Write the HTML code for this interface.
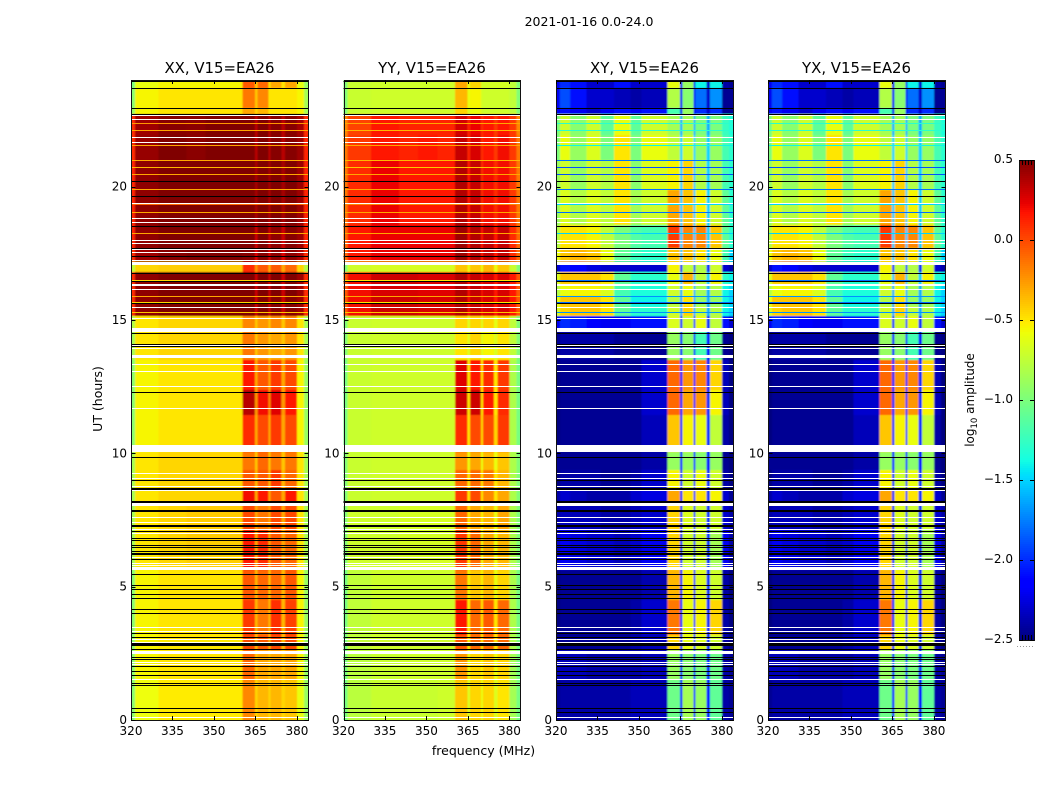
<!DOCTYPE html>
<html lang="en">
<head>
<meta charset="utf-8">
<title>2021-01-16 0.0-24.0</title>
<style>
html,body{margin:0;padding:0;background:#fff;}
#figure{display:block;width:1050px;height:800px;font-family:"DejaVu Sans","Liberation Sans",sans-serif;}
text{fill:#000;}
</style>
</head>
<body>
<svg id="figure" xmlns="http://www.w3.org/2000/svg" width="1050" height="800" viewBox="0 0 1050 800">
  <defs>
    <filter id="soft" x="-2%" y="0%" width="104%" height="100%"><feGaussianBlur stdDeviation="0.8 0.5"/></filter>
  </defs>
  <text x="589" y="26" font-size="12.5" text-anchor="middle">2021-01-16 0.0-24.0</text>
  <text x="483.5" y="755" font-size="12.5" text-anchor="middle">frequency (MHz)</text>
  <text transform="translate(102 399) rotate(-90)" font-size="12.5" text-anchor="middle">UT (hours)</text>
  <text transform="translate(974 400) rotate(-90)" font-size="12" text-anchor="middle">log<tspan font-size="8.5" dy="3">10</tspan><tspan dy="-3"> amplitude</tspan></text>
  <g id="panels"></g>
  <g id="colorbar"></g>
</svg>
<script>
// ---- chart data (log10 amplitude) ----
const copolarFreqEdges = [320,321.5,330,340,347,354,360.4,364.8,365.8,369.8,370.5,374.5,375.6,380,382.5,384];
const crossFreqEdges = [320,321.5,325,331,336,341,347,351,360.4,364.8,365.8,369.8,370.5,374.5,375.6,380,382.5,384];
const timeEdges = [24,23.7,22.95,22.73,21.94,21,19.88,18.56,17.7,17.18,16.8,16.35,15.9,15.53,15.15,14.63,13.5,12.38,11.44,10.05,9.38,8.63,8.06,7.13,5.63,4.5,3.19,2.63,1.5,0];

const xxLevels = [
[-1,-.6,-.55,-.55,-.55,-.55,-.05,-.4,-.1,-.5,-.3,-.5,-.3,-.6,-.9],
[-.95,-.55,-.5,-.5,-.5,-.5,-.15,-.4,-.2,-.5,-.5,-.5,-.5,-.55,-.85],
[-.9,-.55,-.5,-.5,-.5,-.5,-.3,-.45,-.35,-.5,-.5,-.5,-.5,-.55,-.85],
[.1,.42,.48,.47,.5,.5,.5,.35,.5,.35,.48,.35,.48,.4,.1],
[.1,.44,.5,.47,.5,.5,.5,.35,.5,.35,.48,.35,.48,.42,.12],
[.12,.46,.5,.5,.5,.5,.5,.4,.5,.4,.5,.4,.5,.42,.12],
[.12,.46,.5,.5,.5,.5,.5,.4,.5,.38,.5,.4,.5,.42,.12],
[.12,.46,.5,.5,.5,.5,.5,.3,.5,.3,.46,.3,.48,.42,.12],
[.1,.42,.48,.5,.5,.5,.48,.25,.48,.25,.46,.25,.46,.38,.1],
[-.75,-.45,-.42,-.42,-.42,-.42,.1,-.25,-.05,-.35,-.05,-.3,-.1,-.45,-.8],
[.1,.46,.5,.5,.5,.5,.5,.3,.5,.3,.5,.3,.5,.42,.1],
[.1,.46,.5,.5,.5,.5,.5,.3,.5,.3,.5,.3,.5,.42,.1],
[.1,.46,.5,.5,.5,.5,.5,.3,.5,.3,.48,.3,.48,.42,.1],
[.1,.46,.5,.5,.5,.5,.5,.3,.5,.3,.48,.3,.48,.42,.1],
[-.8,-.5,-.45,-.45,-.45,-.45,-.2,-.4,-.25,-.4,-.2,-.4,-.2,-.5,-.85],
[-.85,-.5,-.45,-.45,-.45,-.45,-.15,-.4,-.25,-.4,-.3,-.4,-.25,-.5,-.85],
[-.95,-.55,-.5,-.5,-.5,-.5,.15,-.3,-.05,-.3,.05,-.3,0,-.55,-.9],
[-.95,-.55,-.5,-.5,-.5,-.5,.35,-.25,.2,-.2,.25,-.25,.15,-.55,-.9],
[-.95,-.55,-.5,-.5,-.5,-.5,.1,-.3,0,-.3,.05,-.3,0,-.55,-.9],
[-.85,-.5,-.45,-.45,-.45,-.45,-.15,-.4,-.1,-.4,-.15,-.4,-.15,-.5,-.85],
[-.85,-.5,-.45,-.45,-.45,-.45,-.05,-.35,-.05,-.35,.05,-.35,-.1,-.5,-.85],
[-.85,-.5,-.45,-.45,-.45,-.45,.2,-.3,.15,-.3,-.05,-.3,.15,-.5,-.85],
[-.85,-.5,-.45,-.42,-.42,-.42,0,-.3,-.15,-.3,0,-.3,0,-.5,-.85],
[-.85,-.5,-.45,-.42,-.42,-.42,.15,-.3,.1,-.3,-.05,-.3,-.1,-.5,-.85],
[-.95,-.55,-.5,-.5,-.5,-.5,-.05,-.35,-.1,-.4,-.1,-.35,-.05,-.55,-.9],
[-.95,-.55,-.5,-.5,-.5,-.5,.05,-.35,-.15,-.35,.08,-.35,.03,-.55,-.9],
[-.95,-.55,-.5,-.5,-.5,-.5,0,-.35,-.05,-.35,0,-.35,0,-.55,-.9],
[-.95,-.55,-.5,-.5,-.5,-.5,-.1,-.4,-.3,-.4,-.3,-.4,-.3,-.55,-.9],
[-.95,-.58,-.52,-.52,-.52,-.52,-.2,-.45,-.35,-.45,-.35,-.45,-.4,-.6,-.9]
];

const yyLevels = [
[-.98,-.72,-.7,-.7,-.7,-.7,-.3,-.6,-.45,-.68,-.68,-.68,-.68,-.75,-.98],
[-.98,-.72,-.7,-.7,-.7,-.7,-.35,-.6,-.55,-.68,-.7,-.7,-.7,-.75,-.98],
[-.98,-.72,-.7,-.7,-.7,-.7,-.45,-.65,-.6,-.68,-.7,-.7,-.7,-.75,-.98],
[-.2,.02,.17,.12,.12,.12,.28,.12,.22,.08,.15,.05,.15,.05,-.2],
[-.15,.05,.17,.12,.17,.12,.32,.12,.27,.08,.15,.05,.2,.05,-.15],
[-.15,.1,.22,.17,.17,.17,.37,.15,.32,.1,.2,.1,.2,.05,-.15],
[-.15,.1,.22,.17,.17,.17,.37,.15,.32,.1,.2,.1,.2,.05,-.15],
[-.1,.15,.22,.22,.22,.22,.42,.2,.37,.15,.32,.15,.32,.1,-.1],
[-.1,.15,.22,.22,.22,.22,.42,.2,.37,.15,.32,.15,.32,.1,-.1],
[-.98,-.7,-.67,-.67,-.67,-.67,-.4,-.6,-.4,-.6,-.35,-.6,-.4,-.72,-.98],
[-.05,.2,.3,.3,.27,.27,.37,.2,.32,.2,.27,.15,.27,.15,-.05],
[-.05,.2,.27,.27,.25,.25,.37,.2,.32,.2,.27,.15,.27,.15,-.05],
[-.05,.2,.3,.3,.27,.27,.37,.2,.32,.2,.27,.15,.27,.15,-.05],
[-.05,.2,.3,.3,.27,.27,.37,.2,.32,.2,.27,.15,.27,.15,-.05],
[-.98,-.72,-.7,-.7,-.7,-.7,-.45,-.65,-.45,-.65,-.45,-.62,-.45,-.75,-.98],
[-.98,-.72,-.7,-.7,-.7,-.7,-.5,-.65,-.45,-.65,-.55,-.65,-.5,-.75,-.98],
[-1.02,-.72,-.7,-.7,-.7,-.7,.25,-.5,.15,-.5,.1,-.5,.05,-.82,-1.02],
[-1.02,-.72,-.7,-.7,-.7,-.7,.3,-.5,.3,-.5,.15,-.5,.1,-.82,-1.02],
[-1.02,-.72,-.7,-.7,-.7,-.7,.1,-.5,0,-.45,0,-.45,.05,-.82,-1.02],
[-.98,-.72,-.7,-.7,-.7,-.7,-.25,-.6,-.3,-.6,-.35,-.6,-.4,-.82,-.98],
[-.98,-.72,-.7,-.7,-.7,-.7,-.1,-.5,-.1,-.5,-.15,-.5,-.35,-.82,-.98],
[-.98,-.72,-.7,-.7,-.7,-.7,.05,-.5,0,-.5,-.2,-.5,-.3,-.82,-.98],
[-.98,-.7,-.7,-.67,-.67,-.67,-.1,-.5,-.3,-.55,-.35,-.6,-.3,-.82,-.98],
[-.98,-.7,-.7,-.67,-.67,-.67,.05,-.5,-.1,-.6,-.3,-.6,-.35,-.82,-.98],
[-1.02,-.75,-.7,-.7,-.7,-.7,-.15,-.55,-.4,-.55,-.35,-.6,-.45,-.82,-1.02],
[-1.02,-.75,-.7,-.7,-.7,-.7,.15,-.55,-.1,-.5,-.05,-.5,-.1,-.82,-1.02],
[-1.02,-.75,-.7,-.7,-.7,-.7,-.05,-.55,-.1,-.5,-.1,-.5,-.1,-.82,-1.02],
[-1.02,-.77,-.72,-.7,-.7,-.7,-.25,-.6,-.45,-.55,-.4,-.6,-.45,-.85,-1.02],
[-1.02,-.77,-.72,-.72,-.72,-.7,-.4,-.65,-.45,-.6,-.45,-.65,-.5,-.85,-1.02]
];

const xyLevels = [
[-2.2,-2,-2.1,-2.3,-2.3,-2.1,-2.3,-2.3,-.6,-2.2,-.9,-2.2,-1.4,-2.3,-1.4,-2.4,-2.45],
[-2.2,-1.9,-2.1,-2.3,-2.3,-2.35,-2.4,-2.35,-.8,-2.2,-.95,-2.2,-1.8,-2.3,-1.7,-2.45,-2.45],
[-2.2,-2.1,-2.2,-2.3,-2.2,-2.1,-2.2,-2.1,-1.2,-2.2,-.9,-2.2,-2,-2.3,-2,-2.45,-2.45],
[-1,-.7,-.95,-.7,-1.1,-.6,-1.1,-.7,-.85,-1.6,-.85,-1.6,-1,-1.6,-1,-1.25,-1.35],
[-1,-.6,-.9,-.65,-1,-.5,-1,-.6,-.75,-1.5,-.7,-1.5,-.9,-1.5,-.9,-1.2,-1.3],
[-.9,-.7,-.9,-.7,-.8,-.5,-.95,-.65,-.55,-1.5,-.45,-1.5,-.8,-1.5,-.85,-1.2,-1.3],
[-.9,-.65,-.8,-.65,-.75,-.5,-.85,-.7,-.3,-1.5,-.4,-1.5,-.55,-1.5,-.7,-1.1,-1.3],
[-.8,-.5,-.5,-.55,-.75,-1,-1.15,-1.2,.05,-1.5,-.2,-1.5,-.2,-1.5,-.4,-1.1,-1.3],
[-.6,-.4,-.35,-.4,-.6,-1.1,-1.25,-1.3,-.4,-1.5,-.4,-1.5,-.5,-1.5,-.6,-1.2,-1.5],
[-2.3,-2.1,-2.15,-2.25,-2.3,-2.3,-2.3,-2.3,-.55,-2,-.75,-2,-.8,-2,-.7,-2.3,-2.4],
[-.65,-.4,-.4,-.4,-.5,-1.1,-1.3,-1.3,-.6,-1.5,-.35,-1.5,-.75,-1.5,-.55,-1.3,-1.4],
[-.8,-.6,-.55,-.55,-.65,-1.2,-1.35,-1.35,-.7,-1.6,-.6,-1.6,-.85,-1.6,-.8,-1.4,-1.5],
[-.6,-.4,-.4,-.4,-.5,-1.1,-1.4,-1.4,-.8,-1.6,-.5,-1.6,-.9,-1.6,-.9,-1.4,-1.5],
[-.65,-.45,-.4,-.4,-.5,-1.1,-1.3,-1.3,-.7,-1.6,-.45,-1.6,-.75,-1.6,-.8,-1.4,-1.5],
[-2.2,-2,-2.05,-2.15,-2.2,-2.2,-2.1,-2.1,-.65,-2,-.7,-2,-.6,-2,-.75,-2.1,-2.3],
[-2.45,-2.4,-2.4,-2.4,-2.4,-2.45,-2.45,-2.45,-.9,-2.1,-.95,-2.1,-1.2,-2.1,-1.05,-2.45,-2.5],
[-2.5,-2.45,-2.45,-2.45,-2.45,-2.45,-2.45,-2.3,-.1,-2,-.25,-2,-.2,-2,-.45,-2.35,-2.5],
[-2.5,-2.45,-2.45,-2.45,-2.45,-2.45,-2.45,-2.3,-.1,-2,-.3,-2,-.25,-2,-.55,-2.35,-2.5],
[-2.5,-2.45,-2.45,-2.45,-2.45,-2.45,-2.45,-2.35,-.4,-2,-.55,-2,-.6,-2,-.75,-2.4,-2.5],
[-2.45,-2.45,-2.45,-2.45,-2.45,-2.45,-2.45,-2.4,-.9,-2.1,-.9,-2.1,-.95,-2.1,-.9,-2.45,-2.5],
[-2.5,-2.4,-2.4,-2.4,-2.45,-2.45,-2.4,-2.3,-.55,-2,-.7,-2,-.6,-2,-.7,-2.4,-2.5],
[-2.4,-2.3,-2.35,-2.4,-2.4,-2.4,-2.3,-2.25,-.3,-2,-.5,-2,-.5,-2,-.55,-2.3,-2.45],
[-2.4,-2.35,-2.35,-2.35,-2.4,-2.4,-2.35,-2.3,-.45,-2,-.65,-2,-.7,-2,-.7,-2.3,-2.4],
[-2.3,-2.2,-2.25,-2.3,-2.3,-2.35,-2.3,-2.2,-.45,-2,-.7,-2,-.7,-2,-.85,-2.2,-2.4],
[-2.5,-2.45,-2.45,-2.45,-2.45,-2.45,-2.45,-2.38,-.35,-2,-.55,-2,-.65,-2,-.7,-2.4,-2.5],
[-2.5,-2.45,-2.45,-2.45,-2.45,-2.45,-2.4,-2.3,-.15,-2,-.6,-2,-.55,-2,-.45,-2.4,-2.5],
[-2.45,-2.45,-2.45,-2.45,-2.45,-2.45,-2.4,-2.35,-.45,-2,-.6,-2,-.65,-2,-.7,-2.4,-2.5],
[-2.35,-2.35,-2.35,-2.4,-2.4,-2.4,-2.4,-2.35,-.9,-2,-.95,-2,-1,-2,-1.05,-2.4,-2.45],
[-2.45,-2.4,-2.4,-2.4,-2.4,-2.4,-2.35,-2.35,-1.05,-2.1,-.85,-2.1,-.9,-2.1,-1.1,-2.4,-2.45]
];

const yxLevels = xyLevels.map(function (row) { return row.slice(); });

const dipHours = [22.39,22.13,21.56,21,20.74,20.48,19.91,19.65,19.35,19.05,18.53,18.26,16.5,15.91,15.68,15.3];
const xxDipLevels = [-.25,-.3,-.3,-.3,-.35,-.3,-.3,-.4,-.1,-.3,-.55,-.3,-.45,-.3,-.45,-.4];
const yyDipLevels = [-.3,-.35,-.3,-.35,-.4,-.3,-.3,-.4,-.2,-.3,-.55,-.3,-.5,-.3,-.5,-.4];
const xyDipLevels = [-1.3,-1.3,-1.4,-1.8,-1.9,-1.9,-1.8,-1.7,-1.5,-1.8,-1.9,-1.5,-1.8,-1.7,-1.8,-1.7];
const yxDipLevels = xyDipLevels.slice();

const whiteRowHours = [22.69,22.54,21.88,21.68,19.39,18.83,18.68,18,17.89,17.66,17.55,17.25,16.16,15.49,15.08,14.06,13.95,13.35,13.09,12.53,11.7,9.26,9.08,8.78,7.61,7.43,7.16,7.01,6.11,5.89,5.81,3.49,3.34,3.04,2.93,2.18,2.1,1.54,.11];
const whiteBlockStarts = [17.19,16.35,14.7,13.69,10.31,8.63,8.12,5.72,2.59];
const whiteBlockEnds = [17.08,16.28,14.55,13.56,10.05,8.57,8.04,5.61,2.49];
const blackRowHours = [23.96,23.7,22.95,22.73,20.21,19.65,18.53,17.7,17.4,16.78,16.46,15.64,14.53,14.1,14.01,12.3,9.85,9,7.89,7.82,7.33,7.28,7.09,6.83,6.75,6.56,6.49,6.34,6.26,6.21,6.04,5.48,5.06,4.91,4.73,4.58,4.16,4.01,3.26,3.11,2.66,2.36,2.29,2.03,1.84,1.69,1.39,1.31,.45,.3];
const blackBlockStarts = [8.7,8.21,2.89];
const blackBlockEnds = [8.63,8.14,2.78];

const xTicks = [320,335,350,365,380];
const yTicks = [0,5,10,15,20];
const colorTicks = [-2.5,-2,-1.5,-1,-.5,0,.5];
const colorTickLabels = ['\u22122.5','\u22122.0','\u22121.5','\u22121.0','\u22120.5','0.0','0.5'];

// ---- layout and scales ----
const NS = 'http://www.w3.org/2000/svg';
const freqMin = 320, freqMax = 384, hourMin = 0, hourMax = 24;
const plotTop = 80, plotBottom = 720, plotWidth = 177;
const vMin = -2.5, vMax = 0.5;
const cbLeft = 1019, cbRight = 1034, cbTop = 160, cbBottom = 640;

function xScale(left, f) { return left + (f - freqMin) / (freqMax - freqMin) * plotWidth; }
function yScale(h) { return plotBottom - (h - hourMin) / (hourMax - hourMin) * (plotBottom - plotTop); }
function cbScale(v) { return cbBottom - (v - vMin) / (vMax - vMin) * (cbBottom - cbTop); }

function ramp(t, pts) {
  for (let i = 1; i < pts.length; i++) {
    if (t <= pts[i][0]) {
      const a = pts[i - 1], b = pts[i];
      return a[1] + (b[1] - a[1]) * (t - a[0]) / (b[0] - a[0]);
    }
  }
  return pts[pts.length - 1][1];
}
function jet(v) {
  const t = Math.max(0, Math.min(1, (v - vMin) / (vMax - vMin)));
  const r = ramp(t, [[0,0],[.35,0],[.66,1],[.89,1],[1,.5]]);
  const g = ramp(t, [[0,0],[.125,0],[.375,1],[.64,1],[.91,0],[1,0]]);
  const b = ramp(t, [[0,.5],[.11,1],[.34,1],[.65,0],[1,0]]);
  return 'rgb(' + Math.round(r * 255) + ',' + Math.round(g * 255) + ',' + Math.round(b * 255) + ')';
}
function rect(parent, x, y, w, h, fill) {
  const el = document.createElementNS(NS, 'rect');
  el.setAttribute('x', x);
  el.setAttribute('y', y);
  el.setAttribute('width', w);
  el.setAttribute('height', h);
  el.setAttribute('fill', fill);
  el.setAttribute('shape-rendering', 'crispEdges');
  parent.appendChild(el);
  return el;
}
function line(parent, x1, y1, x2, y2) {
  const el = document.createElementNS(NS, 'line');
  el.setAttribute('x1', x1);
  el.setAttribute('y1', y1);
  el.setAttribute('x2', x2);
  el.setAttribute('y2', y2);
  el.setAttribute('stroke', '#000');
  el.setAttribute('stroke-width', '1');
  parent.appendChild(el);
  return el;
}
function label(parent, x, y, anchor, str) {
  const el = document.createElementNS(NS, 'text');
  el.setAttribute('x', x);
  el.setAttribute('y', y);
  el.setAttribute('font-size', '12');
  el.setAttribute('text-anchor', anchor);
  el.textContent = str;
  parent.appendChild(el);
  return el;
}

const panelDefs = [
  { title: 'XX, V15=EA26', key: 'xx', left: 131, levels: xxLevels, dips: xxDipLevels, edges: copolarFreqEdges },
  { title: 'YY, V15=EA26', key: 'yy', left: 343.5, levels: yyLevels, dips: yyDipLevels, edges: copolarFreqEdges },
  { title: 'XY, V15=EA26', key: 'xy', left: 556, levels: xyLevels, dips: xyDipLevels, edges: crossFreqEdges },
  { title: 'YX, V15=EA26', key: 'yx', left: 768, levels: yxLevels, dips: yxDipLevels, edges: crossFreqEdges }
];

const panelsRoot = document.getElementById('panels');
const defs = document.querySelector('defs');

panelDefs.forEach(function (p, idx) {
  const g = document.createElementNS(NS, 'g');
  
  
  panelsRoot.appendChild(g);

  const clip = document.createElementNS(NS, 'clipPath');
  clip.setAttribute('id', 'clip-' + p.key);
  const clipRect = document.createElementNS(NS, 'rect');
  clipRect.setAttribute('x', p.left);
  clipRect.setAttribute('y', plotTop);
  clipRect.setAttribute('width', plotWidth);
  clipRect.setAttribute('height', plotBottom - plotTop);
  clip.appendChild(clipRect);
  defs.appendChild(clip);

  const clipped = document.createElementNS(NS, 'g');
  clipped.setAttribute('clip-path', 'url(#clip-' + p.key + ')');
  g.appendChild(clipped);

  const cells = document.createElementNS(NS, 'g');
  cells.setAttribute('filter', 'url(#soft)');
  
  
  clipped.appendChild(cells);

  p.levels.forEach(function (row, r) {
    row.forEach(function (v, c) {
      const pad0 = c === 0 ? 6 : 0;
      const pad1 = c === row.length - 1 ? 6 : 0;
      const x0 = xScale(p.left, p.edges[c]) - pad0;
      const x1 = xScale(p.left, p.edges[c + 1]) + pad1;
      const y0 = yScale(timeEdges[r]) - (r === 0 ? 4 : 0);
      const y1 = yScale(timeEdges[r + 1]) + (r === p.levels.length - 1 ? 4 : 0);
      const cell = rect(cells, x0, y0, x1 - x0 + .5, y1 - y0 + .5, jet(v));
      
      
    });
  });

  dipHours.forEach(function (h, i) {
    const dip = rect(clipped, p.left, Math.round(yScale(h)), plotWidth, 1, jet(p.dips[i]));
    
    
  });
  whiteRowHours.forEach(function (h) {
    const flag = rect(clipped, p.left, Math.round(yScale(h)), plotWidth, 1, '#fff');
    
    
  });
  whiteBlockStarts.forEach(function (h, i) {
    const y0 = Math.round(yScale(h));
    const flag = rect(clipped, p.left, y0, plotWidth, Math.round(yScale(whiteBlockEnds[i])) - y0, '#fff');
    
    
  });
  blackRowHours.forEach(function (h) {
    const flag = rect(clipped, p.left, Math.round(yScale(h)), plotWidth, 1, '#000');
    
    
  });
  blackBlockStarts.forEach(function (h, i) {
    const y0 = Math.round(yScale(h));
    const flag = rect(clipped, p.left, y0, plotWidth, Math.round(yScale(blackBlockEnds[i])) - y0, '#000');
    
    
  });

  const frameX = Math.round(p.left) + .5;
  const frameRight = Math.floor(p.left + plotWidth) + .5;
  const frame = document.createElementNS(NS, 'rect');
  frame.setAttribute('x', frameX);
  frame.setAttribute('y', plotTop + .5);
  frame.setAttribute('width', frameRight - frameX);
  frame.setAttribute('height', plotBottom - plotTop);
  frame.setAttribute('fill', 'none');
  frame.setAttribute('stroke', '#111');
  frame.setAttribute('stroke-width', '1');
  
  
  g.appendChild(frame);

  const titleEl = document.createElementNS(NS, 'text');
  titleEl.setAttribute('x', p.left + plotWidth / 2);
  titleEl.setAttribute('y', 73);
  titleEl.setAttribute('font-size', '14.9');
  titleEl.setAttribute('text-anchor', 'middle');
  titleEl.textContent = p.title;
  
  
  g.appendChild(titleEl);

  xTicks.forEach(function (f) {
    const x = Math.round(xScale(p.left, f)) + .5;
    const t1 = line(g, x, plotBottom, x, plotBottom - 4);
    
    
    const t2 = line(g, x, plotTop, x, plotTop + 4);
    
    
    const lab = label(g, xScale(p.left, f), 735, 'middle', String(f));
    
    
  });
  yTicks.forEach(function (h) {
    const y = Math.round(yScale(h)) + .5;
    const t1 = line(g, frameX, y, frameX + 4, y);
    
    
    const t2 = line(g, frameRight, y, frameRight - 4, y);
    
    
    const lab = label(g, p.left - 4, yScale(h) + 4, 'end', String(h));
    
    
  });
});

// ---- colorbar ----
const cb = document.getElementById('colorbar');
for (let y = cbTop; y < cbBottom; y += 2) {
  const v = vMax - (y + 1 - cbTop) / (cbBottom - cbTop) * (vMax - vMin);
  const sw = rect(cb, cbLeft, y, cbRight - cbLeft, 2, jet(v));
  
  
}
const cbFrame = document.createElementNS(NS, 'rect');
cbFrame.setAttribute('x', cbLeft + .5);
cbFrame.setAttribute('y', cbTop + .5);
cbFrame.setAttribute('width', cbRight - cbLeft);
cbFrame.setAttribute('height', cbBottom - cbTop);
cbFrame.setAttribute('fill', 'none');
cbFrame.setAttribute('stroke', '#111');


cb.appendChild(cbFrame);

colorTicks.forEach(function (v, i) {
  const y = Math.round(cbScale(v)) + .5;
  const t1 = line(cb, cbLeft, y, cbLeft + 4, y);
  
  
  const t2 = line(cb, cbRight, y, cbRight - 4, y);
  
  
  const lab = label(cb, cbLeft - 6, cbScale(v) + 3, 'end', colorTickLabels[i]);
  
  
});
for (let x = cbLeft + 3; x < cbRight; x += 3) {
  const m1 = line(cb, x + .5, cbTop, x + .5, cbTop + 5);
  
  
  const m2 = line(cb, x + .5, cbBottom, x + .5, cbBottom - 5);
  
  
}
const dots = line(cb, 1017, 646.5, 1035, 646.5);
dots.setAttribute('stroke', '#999');
dots.setAttribute('stroke-dasharray', '1 2');


</script>
</body>
</html>
